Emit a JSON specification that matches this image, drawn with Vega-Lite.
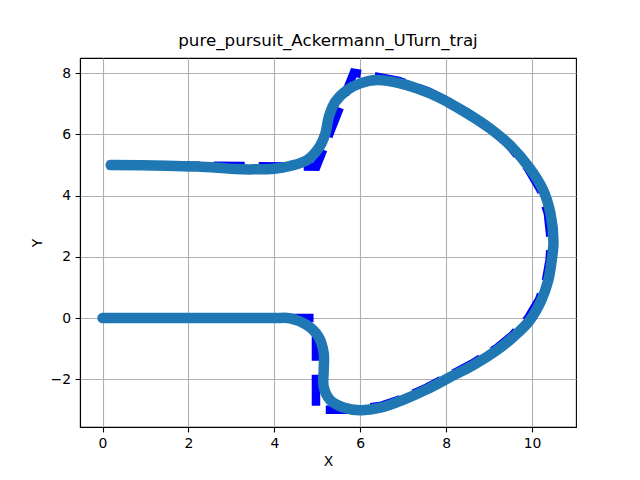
{
  "$schema": "https://vega.github.io/schema/vega-lite/v6.json",
  "width": 496,
  "height": 369,
  "autosize": "none",
  "padding": {"left": 80, "top": 58, "right": 64, "bottom": 53},
  "background": "white",
  "title": {"text": "pure_pursuit_Ackermann_UTurn_traj", "font": "DejaVu Sans", "fontSize": 16.7, "fontWeight": "normal", "color": "black", "anchor": "middle", "baseline": "bottom", "offset": -9},
  "config": {
    "view": {"stroke": "black", "strokeWidth": 1.1},
    "axis": {
      "labelFont": "DejaVu Sans", "labelFontSize": 13.9, "labelColor": "black",
      "titleFont": "DejaVu Sans", "titleFontSize": 13.9, "titleFontWeight": "normal", "titleColor": "black",
      "tickColor": "black", "tickSize": 4.9, "tickWidth": 1.1, "labelPadding": 4.5,
      "domainColor": "black", "domainWidth": 1.1,
      "gridColor": "#b0b0b0", "gridWidth": 1.1, "gridOpacity": 1
    }
  },
  "datasets": {
    "ref": [
      {"i": 0, "x": 0.0, "y": 0.0},
      {"i": 1, "x": 4.97, "y": 0.0},
      {"i": 2, "x": 4.97, "y": -3.0},
      {"i": 3, "x": 5.85, "y": -3.0},
      {"i": 4, "x": 6.5, "y": -2.86},
      {"i": 5, "x": 7.0, "y": -2.62},
      {"i": 6, "x": 7.55, "y": -2.27},
      {"i": 7, "x": 8.09, "y": -1.87},
      {"i": 8, "x": 8.63, "y": -1.47},
      {"i": 9, "x": 9.18, "y": -0.98},
      {"i": 10, "x": 9.55, "y": -0.55},
      {"i": 11, "x": 9.9, "y": -0.02},
      {"i": 12, "x": 10.17, "y": 0.62},
      {"i": 13, "x": 10.33, "y": 1.26},
      {"i": 14, "x": 10.41, "y": 1.9},
      {"i": 15, "x": 10.44, "y": 2.5},
      {"i": 16, "x": 10.37, "y": 3.42},
      {"i": 17, "x": 10.2, "y": 4.18},
      {"i": 18, "x": 9.9, "y": 4.9},
      {"i": 19, "x": 9.45, "y": 5.68},
      {"i": 20, "x": 8.98, "y": 6.25},
      {"i": 21, "x": 8.52, "y": 6.7},
      {"i": 22, "x": 8.05, "y": 7.08},
      {"i": 23, "x": 7.6, "y": 7.4},
      {"i": 24, "x": 6.9, "y": 7.75},
      {"i": 25, "x": 6.35, "y": 7.9},
      {"i": 26, "x": 5.85, "y": 8.02},
      {"i": 27, "x": 4.98, "y": 4.95},
      {"i": 28, "x": 0.1, "y": 5.0}
    ],
    "traj": [
      {"i": 0, "x": 0.0, "y": 0.0},
      {"i": 1, "x": 1.0, "y": 0.0},
      {"i": 2, "x": 2.0, "y": 0.0},
      {"i": 3, "x": 3.0, "y": 0.0},
      {"i": 4, "x": 4.0, "y": 0.0},
      {"i": 5, "x": 4.37, "y": -0.01},
      {"i": 6, "x": 4.76, "y": -0.23},
      {"i": 7, "x": 5.03, "y": -0.61},
      {"i": 8, "x": 5.15, "y": -1.15},
      {"i": 9, "x": 5.15, "y": -1.7},
      {"i": 10, "x": 5.15, "y": -2.25},
      {"i": 11, "x": 5.3, "y": -2.68},
      {"i": 12, "x": 5.61, "y": -2.92},
      {"i": 13, "x": 6.0, "y": -3.01},
      {"i": 14, "x": 6.47, "y": -2.93},
      {"i": 15, "x": 7.0, "y": -2.67},
      {"i": 16, "x": 7.55, "y": -2.33},
      {"i": 17, "x": 8.09, "y": -1.93},
      {"i": 18, "x": 8.63, "y": -1.54},
      {"i": 19, "x": 9.18, "y": -1.05},
      {"i": 20, "x": 9.57, "y": -0.61},
      {"i": 21, "x": 9.95, "y": -0.07},
      {"i": 22, "x": 10.22, "y": 0.59},
      {"i": 23, "x": 10.38, "y": 1.24},
      {"i": 24, "x": 10.46, "y": 1.9},
      {"i": 25, "x": 10.5, "y": 2.5},
      {"i": 26, "x": 10.43, "y": 3.42},
      {"i": 27, "x": 10.26, "y": 4.18},
      {"i": 28, "x": 9.95, "y": 4.89},
      {"i": 29, "x": 9.49, "y": 5.65},
      {"i": 30, "x": 9.02, "y": 6.2},
      {"i": 31, "x": 8.56, "y": 6.63},
      {"i": 32, "x": 8.09, "y": 7.02},
      {"i": 33, "x": 7.63, "y": 7.34},
      {"i": 34, "x": 6.93, "y": 7.67},
      {"i": 35, "x": 6.39, "y": 7.78},
      {"i": 36, "x": 6.0, "y": 7.67},
      {"i": 37, "x": 5.69, "y": 7.45},
      {"i": 38, "x": 5.42, "y": 7.07},
      {"i": 39, "x": 5.27, "y": 6.58},
      {"i": 40, "x": 5.19, "y": 6.04},
      {"i": 41, "x": 5.03, "y": 5.55},
      {"i": 42, "x": 4.76, "y": 5.16},
      {"i": 43, "x": 4.37, "y": 4.97},
      {"i": 44, "x": 4.0, "y": 4.88},
      {"i": 45, "x": 3.5, "y": 4.86},
      {"i": 46, "x": 3.1, "y": 4.87},
      {"i": 47, "x": 2.7, "y": 4.91},
      {"i": 48, "x": 2.2, "y": 4.95},
      {"i": 49, "x": 1.5, "y": 4.98},
      {"i": 50, "x": 0.19, "y": 5.0}
    ]
  },
  "encoding": {
    "x": {"field": "x", "type": "quantitative", "title": "X", "scale": {"domain": [-0.525, 11.025], "nice": false, "zero": false}, "axis": {"values": [0, 2, 4, 6, 8, 10], "titlePadding": 4}},
    "y": {"field": "y", "type": "quantitative", "title": "Y", "scale": {"domain": [-3.56, 8.5], "nice": false, "zero": false}, "axis": {"values": [-2, 0, 2, 4, 6, 8], "titlePadding": 6}},
    "order": {"field": "i", "type": "quantitative"}
  },
  "layer": [
    {"data": {"name": "ref"}, "mark": {"type": "line", "color": "#0000ff", "strokeWidth": 8.5, "strokeDash": [31, 14], "strokeCap": "butt", "strokeJoin": "miter", "clip": true}},
    {"data": {"name": "traj"}, "mark": {"type": "line", "color": "#1f77b4", "strokeWidth": 10.5, "strokeCap": "round", "strokeJoin": "round", "interpolate": "catmull-rom", "clip": true}}
  ]
}
